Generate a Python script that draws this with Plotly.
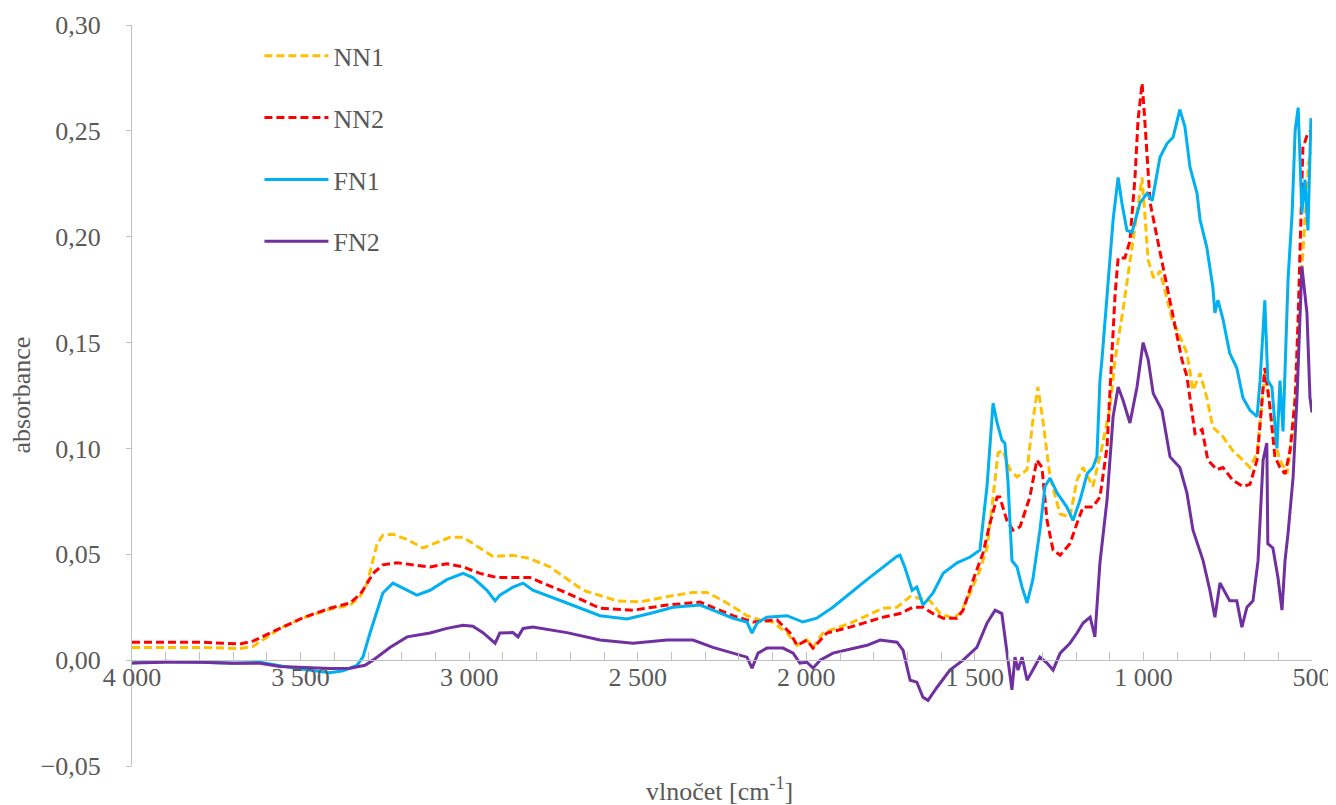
import plotly.graph_objects as go

# wavenumber [cm-1] / absorbance
nn1_x = [4000, 3798, 3680, 3641, 3561, 3493, 3413, 3353, 3324, 3303, 3273, 3256, 3226, 3184, 3137,
         3057, 3018, 2968, 2929, 2870, 2820, 2760, 2662, 2561, 2493, 2413, 2336, 2294, 2235, 2176,
         2137, 2099, 2057, 2027, 1998, 1980, 1951, 1870, 1781, 1772, 1731, 1692, 1672, 1633, 1603,
         1565, 1544, 1514, 1485, 1464, 1446, 1431, 1417, 1396, 1375, 1345, 1328, 1313, 1298, 1277,
         1247, 1218, 1197, 1179, 1150, 1123, 1099, 1084, 1061, 1031, 1016, 1004, 995, 986, 971,
         960, 951, 930, 912, 900, 883, 871, 853, 832, 812, 794, 764, 735, 705, 684,
         663, 648, 640, 631, 616, 595, 574, 559, 544, 536, 521, 510, 503]
nn1_y = [0.006, 0.006, 0.0055, 0.0065, 0.015, 0.020, 0.024, 0.026, 0.030, 0.036, 0.055, 0.059, 0.0595, 0.057, 0.053,
         0.058, 0.058, 0.053, 0.049, 0.0495, 0.048, 0.044, 0.033, 0.028, 0.0275, 0.030, 0.032, 0.032, 0.027, 0.021,
         0.019, 0.018, 0.0128, 0.007, 0.0095, 0.006, 0.0128, 0.0175, 0.0236, 0.0245, 0.025, 0.030, 0.0295, 0.028, 0.022,
         0.0198, 0.022, 0.0317, 0.0425, 0.053, 0.077, 0.098, 0.099, 0.090, 0.0865, 0.090, 0.113, 0.129, 0.113, 0.0865,
         0.069, 0.0676, 0.085, 0.091, 0.082, 0.1006, 0.1195, 0.142, 0.165, 0.197, 0.213, 0.228, 0.209, 0.189, 0.181,
         0.181, 0.184, 0.171, 0.159, 0.156, 0.150, 0.145, 0.1275, 0.1355, 0.124, 0.110, 0.1055, 0.099, 0.0945, 0.091,
         0.0978, 0.123, 0.1355, 0.129, 0.107, 0.0945, 0.088, 0.107, 0.138, 0.170, 0.210, 0.235, 0.240]

nn2_x = [4000, 3798, 3680, 3641, 3561, 3493, 3413, 3353, 3324, 3315, 3285, 3256, 3214, 3116, 3066,
         3018, 2968, 2917, 2820, 2710, 2612, 2514, 2413, 2315, 2217, 2158, 2087, 2048, 2027, 1998,
         1980, 1939, 1870, 1772, 1722, 1683, 1654, 1624, 1594, 1553, 1535, 1505, 1476, 1455, 1434,
         1426, 1405, 1387, 1366, 1337, 1316, 1301, 1286, 1268, 1247, 1218, 1197, 1179, 1150, 1129,
         1108, 1093, 1084, 1075, 1055, 1040, 1025, 1016, 1004, 998, 989, 980, 960, 942, 921,
         900, 886, 871, 847, 826, 809, 782, 764, 735, 705, 684, 663, 648, 640, 625,
         610, 595, 580, 565, 550, 541, 530, 527, 512, 503]
nn2_y = [0.0085, 0.0085, 0.0076, 0.009, 0.015, 0.020, 0.0245, 0.027, 0.031, 0.033, 0.041, 0.045, 0.046, 0.044, 0.0455,
         0.044, 0.041, 0.039, 0.039, 0.0317, 0.0245, 0.0236, 0.026, 0.0274, 0.021, 0.018, 0.019, 0.0128, 0.007, 0.0095,
         0.0057, 0.0128, 0.0156, 0.0203, 0.022, 0.025, 0.025, 0.022, 0.0198, 0.0198, 0.0236, 0.038, 0.0505, 0.0647, 0.077,
         0.077, 0.066, 0.0614, 0.063, 0.077, 0.0945, 0.091, 0.066, 0.052, 0.0496, 0.055, 0.0647, 0.0723, 0.0723, 0.077,
         0.1006, 0.142, 0.173, 0.190, 0.190, 0.198, 0.228, 0.255, 0.2725, 0.260, 0.236, 0.216, 0.200, 0.186, 0.169,
         0.153, 0.142, 0.134, 0.107, 0.109, 0.0945, 0.090, 0.091, 0.085, 0.082, 0.083, 0.0945, 0.123, 0.138, 0.120,
         0.096, 0.091, 0.088, 0.099, 0.123, 0.162, 0.227, 0.242, 0.249, 0.250]

fn1_x = [4000, 3900, 3798, 3700, 3620, 3511, 3413, 3374, 3333, 3315, 3294, 3273, 3256, 3226, 3196,
         3155, 3116, 3066, 3018, 2989, 2947, 2923, 2909, 2870, 2840, 2811, 2710, 2612, 2532, 2464,
         2395, 2315, 2277, 2217, 2176, 2161, 2146, 2117, 2057, 2010, 1969, 1921, 1820, 1731, 1722,
         1708, 1686, 1672, 1654, 1624, 1594, 1553, 1514, 1485, 1464, 1455, 1446, 1434, 1420, 1411,
         1402, 1390, 1375, 1360, 1345, 1328, 1307, 1292, 1277, 1256, 1227, 1209, 1188, 1167, 1150,
         1138, 1129, 1123, 1108, 1090, 1075, 1064, 1049, 1034, 1010, 989, 974, 951, 930, 912,
         892, 877, 862, 841, 832, 812, 794, 788, 779, 764, 744, 723, 705, 684, 663,
         654, 640, 631, 619, 604, 595, 586, 571, 559, 550, 541, 530, 521, 512, 503]
fn1_y = [-0.0014, -0.0005, -0.001, -0.0015, -0.001, -0.004, -0.006, -0.005, -0.0025, 0.0015, 0.0128, 0.0236, 0.0317, 0.0364, 0.034,
         0.0307, 0.033, 0.038, 0.041, 0.039, 0.033, 0.028, 0.0307, 0.0345, 0.0364, 0.033, 0.027, 0.021, 0.0194, 0.022,
         0.025, 0.026, 0.0236, 0.0198, 0.018, 0.0128, 0.0175, 0.0203, 0.021, 0.018, 0.0198, 0.025, 0.038, 0.049, 0.0496,
         0.044, 0.033, 0.0345, 0.026, 0.0317, 0.041, 0.046, 0.0487, 0.052, 0.082, 0.1006, 0.1214, 0.112, 0.104, 0.1025,
         0.085, 0.047, 0.044, 0.0345, 0.027, 0.038, 0.0614, 0.082, 0.086, 0.079, 0.0723, 0.066, 0.0756, 0.088, 0.091,
         0.096, 0.132, 0.142, 0.173, 0.208, 0.228, 0.216, 0.203, 0.202, 0.216, 0.2205, 0.217, 0.2375, 0.244, 0.247,
         0.260, 0.252, 0.233, 0.2205, 0.208, 0.195, 0.176, 0.164, 0.170, 0.161, 0.145, 0.138, 0.124, 0.118, 0.115,
         0.132, 0.170, 0.132, 0.129, 0.100, 0.132, 0.108, 0.180, 0.211, 0.250, 0.261, 0.211, 0.227, 0.203, 0.256]

fn2_x = [4000, 3900, 3798, 3700, 3620, 3561, 3413, 3353, 3309, 3285, 3235, 3184, 3116, 3066, 3018,
         2989, 2959, 2923, 2909, 2870, 2855, 2840, 2811, 2710, 2612, 2514, 2413, 2336, 2277, 2217,
         2176, 2161, 2143, 2117, 2069, 2039, 2019, 1998, 1980, 1959, 1921, 1820, 1781, 1731, 1713,
         1692, 1672, 1654, 1639, 1612, 1574, 1535, 1494, 1464, 1440, 1420, 1405, 1390, 1381, 1372,
         1360, 1345, 1328, 1307, 1286, 1268, 1247, 1218, 1197, 1179, 1158, 1144, 1129, 1108, 1090,
         1075, 1061, 1040, 1019, 1001, 986, 971, 945, 921, 892, 871, 853, 823, 803, 788,
         773, 744, 723, 708, 693, 675, 660, 645, 634, 631, 616, 601, 589, 580, 571,
         556, 544, 530, 515, 506, 500]
fn2_y = [-0.0014, -0.001, -0.001, -0.0015, -0.0015, -0.003, -0.004, -0.0038, -0.0024, 0.0, 0.006, 0.011, 0.0128, 0.015, 0.0165,
         0.016, 0.013, 0.008, 0.0128, 0.013, 0.011, 0.015, 0.0156, 0.013, 0.0095, 0.008, 0.0095, 0.0095, 0.006, 0.0033,
         0.0014, -0.0038, 0.0033, 0.0057, 0.0057, 0.0033, -0.0014, -0.001, -0.0038, 0.0, 0.0033, 0.007, 0.0095, 0.0085, 0.0047,
         -0.0095, -0.0104, -0.0175, -0.019, -0.0128, -0.0047, 0.0, 0.006, 0.0175, 0.0236, 0.022, 0.0033, -0.014, 0.0014, -0.0047,
         0.0014, -0.0095, -0.0047, 0.0014, -0.0014, -0.0047, 0.0033, 0.008, 0.0128, 0.0175, 0.0203, 0.011, 0.046, 0.0756, 0.115,
         0.129, 0.123, 0.112, 0.129, 0.150, 0.142, 0.126, 0.118, 0.096, 0.091, 0.079, 0.0614, 0.047, 0.033, 0.0203,
         0.0364, 0.028, 0.028, 0.0156, 0.025, 0.028, 0.047, 0.0945, 0.1025, 0.055, 0.053, 0.039, 0.0236, 0.047, 0.060,
         0.0865, 0.126, 0.186, 0.164, 0.124, 0.117]

series = [
    ('NN1', nn1_x, nn1_y, '#FFC000', '8px,4px'),
    ('NN2', nn2_x, nn2_y, '#FF0000', '8px,4px'),
    ('FN1', fn1_x, fn1_y, '#00B0F0', 'solid'),
    ('FN2', fn2_x, fn2_y, '#7030A0', 'solid'),
]

font_family = 'Liberation Serif, DejaVu Serif, Times New Roman, serif'
grey = '#595959'
fsize = 26

fig = go.Figure()
for name, xs, ys, color, dash in series:
    fig.add_trace(go.Scatter(
        x=xs, y=ys, mode='lines', name=name, legendgroup=name,
        line=dict(color=color, width=3, dash=dash),
    ))

# the page adds an 8px body margin, so margins are shifted by 8px
fig.update_layout(
    width=1336, height=805,
    margin=dict(l=124, r=32, t=17, b=47),
    paper_bgcolor='white', plot_bgcolor='white',
    separators=', ',
    font=dict(family=font_family, size=fsize, color=grey),
    legend=dict(
        x=0.108, y=0.99, xanchor='left', yanchor='top',
        font=dict(family=font_family, size=fsize, color=grey),
        tracegroupgap=25, itemwidth=64, bgcolor='rgba(0,0,0,0)',
    ),
    xaxis=dict(
        range=[4000, 500], anchor='free', position=0.05 / 0.35,
        dtick=500, tickformat=',d', showgrid=False, zeroline=False, automargin=False,
        showline=True, linecolor='#BFBFBF', linewidth=1,
        ticks='inside', ticklen=8, tickcolor='#BFBFBF',
        minor=dict(dtick=100, ticks='inside', ticklen=8, tickcolor='#BFBFBF'),
        ticklabelstandoff=-6,
        tickfont=dict(family=font_family, size=fsize, color=grey),
    ),
    yaxis=dict(
        range=[-0.05, 0.30], dtick=0.05, tickformat='.2f', domain=[0, 1],
        showgrid=False, zeroline=False, automargin=False,
        showline=True, linecolor='#BFBFBF', linewidth=1,
        ticks='outside', ticklen=5, tickcolor='#BFBFBF',
        ticklabelstandoff=20,
        tickfont=dict(family=font_family, size=fsize, color=grey),
    ),
    annotations=[
        dict(text='vlnočet [cm<sup>-1</sup>]', xref='paper', yref='paper',
             x=0.498, y=-0.032, xanchor='center', yanchor='middle', showarrow=False,
             font=dict(family=font_family, size=fsize, color=grey)),
        dict(text='absorbance', xref='paper', yref='paper', textangle=-90,
             x=-0.094, y=0.5, xanchor='center', yanchor='middle', showarrow=False,
             font=dict(family=font_family, size=fsize, color=grey)),
    ],
)

fig.write_html('out.html')
